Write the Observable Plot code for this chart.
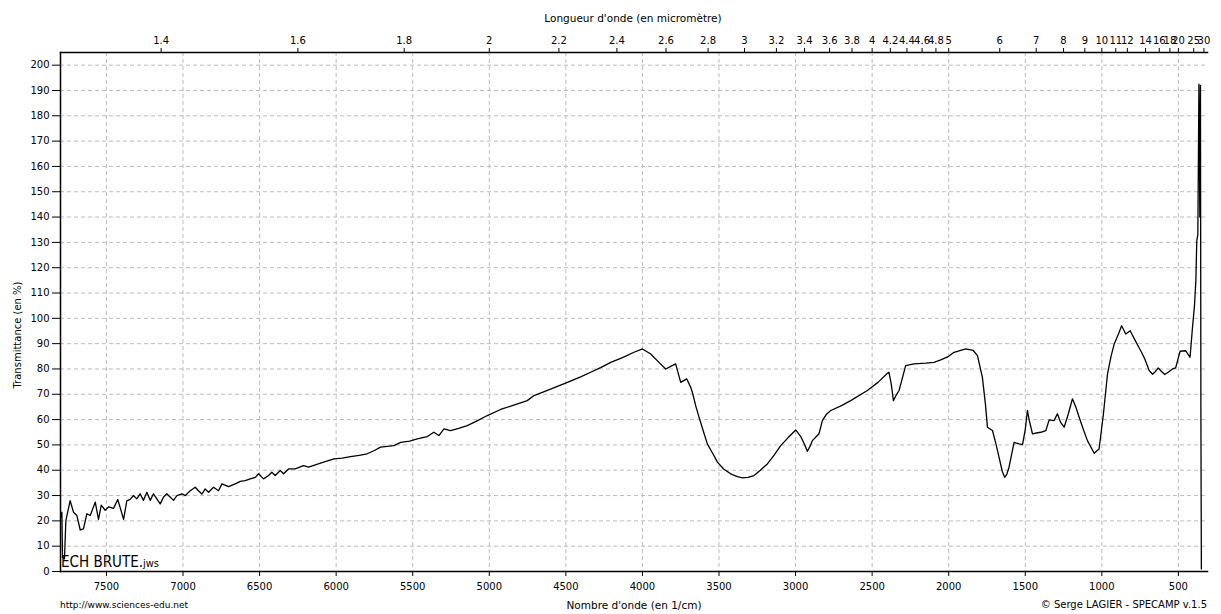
<!DOCTYPE html>
<html><head><meta charset="utf-8">
<script src="https://cdn.jsdelivr.net/npm/d3@7"></script>
<script src="https://cdn.jsdelivr.net/npm/@observablehq/plot@0.6"></script>
<style>
body{margin:0;background:#fff;}
#wrap{position:relative;width:1221px;height:614px;font-family:"DejaVu Sans",sans-serif;color:#000;}
.t{position:absolute;white-space:nowrap;line-height:1;}
</style></head><body><div id="wrap"></div>
<script>
const wavenumber = [7800,7791,7787,7774,7765,7737,7715,7693,7671,7650,7628,7606,7573,7552,7534,7508,7486,7454,7426,7410,7388,7367,7345,7323,7302,7280,7258,7236,7214,7193,7171,7149,7127,7106,7084,7062,7040,7008,6985,6953,6920,6899,6877,6855,6833,6801,6768,6746,6703,6659,6626,6594,6561,6528,6507,6474,6441,6420,6398,6365,6343,6311,6267,6213,6180,6102,6015,5960,5906,5850,5797,5750,5710,5623,5579,5520,5470,5405,5362,5329,5296,5253,5200,5144,5080,5013,4926,4850,4752,4708,4600,4490,4400,4338,4273,4207,4130,4055,4000,3946,3892,3848,3815,3783,3750,3711,3685,3674,3650,3630,3600,3576,3540,3510,3470,3424,3380,3347,3310,3271,3230,3184,3140,3097,3050,2999,2966,2940,2923,2905,2890,2847,2825,2800,2770,2700,2640,2531,2460,2400,2390,2375,2361,2340,2324,2300,2281,2226,2150,2096,2052,2000,1965,1889,1840,1812,1780,1760,1747,1714,1690,1671,1650,1634,1620,1606,1573,1540,1518,1500,1486,1475,1453,1420,1398,1366,1344,1312,1290,1270,1246,1220,1192,1170,1148,1120,1094,1050,1018,990,963,940,919,890,871,844,815,780,746,720,691,669,650,632,610,589,560,539,518,489,452,424,408,395,386,380,373,366,360,356,353,350];
const transmittance = [21.4,23.4,5.6,5.0,20.1,28.0,23.4,22.1,16.4,16.8,22.8,22.1,27.4,20.6,26.2,24.2,25.5,24.9,28.4,25.2,20.6,27.9,28.5,30.0,28.7,30.7,28.1,31.3,28.1,30.7,28.7,26.7,29.4,30.7,29.4,28.1,30.0,30.7,30.0,31.9,33.3,31.9,30.6,32.6,31.3,33.3,31.9,34.6,33.5,34.6,35.6,35.9,36.6,37.2,38.6,36.6,37.9,39.2,37.9,39.9,38.6,40.5,40.5,41.8,41.2,42.8,44.5,44.8,45.4,45.9,46.5,47.8,49.1,49.7,51.0,51.5,52.4,53.3,55.0,53.7,56.3,55.6,56.5,57.6,59.5,61.6,64.0,65.5,67.5,69.5,72.0,74.7,77.0,78.7,80.5,82.6,84.5,86.6,87.9,85.9,82.6,80.0,81.0,82.0,74.7,76.1,72.8,70.8,65.0,60.9,55.0,50.4,46.5,43.2,40.5,38.6,37.5,37.0,37.2,37.9,40.0,42.5,46.0,49.7,52.8,55.9,53.3,50.0,47.5,49.5,51.7,54.4,59.6,62.0,63.6,65.5,67.5,71.5,74.8,78.3,78.7,74.0,67.5,70.0,71.5,77.0,81.3,82.0,82.3,82.6,83.6,85.0,86.6,87.9,87.3,85.3,76.7,66.0,57.0,55.7,50.0,45.1,39.5,37.2,38.5,41.2,51.0,50.4,50.1,56.0,63.6,60.0,54.4,54.8,55.0,55.6,59.9,59.6,62.3,59.0,57.0,62.0,68.2,65.0,60.9,56.0,51.7,46.7,48.4,62.0,78.0,85.0,89.9,94.0,97.1,93.8,95.1,91.0,87.2,84.0,79.4,77.9,79.0,80.4,79.0,77.8,79.0,80.0,80.4,87.0,87.2,84.6,96.4,105.0,114.9,130.7,133.0,192.5,140.0,192.0,60.0,1.0];
const bottomTicks = [7500,7000,6500,6000,5500,5000,4500,4000,3500,3000,2500,2000,1500,1000,500];
const yTicks = [0,10,20,30,40,50,60,70,80,90,100,110,120,130,140,150,160,170,180,190,200];
const lambdaTicks = [1.4,1.6,1.8,2,2.2,2.4,2.6,2.8,3,3.2,3.4,3.6,3.8,4,4.2,4.4,4.6,4.8,5,6,7,8,9,10,11,12,14,16,18,20,25,30];
const texts = {
  top: "Longueur d'onde (en micromètre)",
  bottom: "Nombre d'onde (en 1/cm)",
  yLabel: "Transmittance (en %)",
  site: "http://www.sciences-edu.net",
  credit: "© Serge LAGIER - SPECAMP v.1.5",
  fileMain: "ECH BRUTE.",
  fileExt: "jws"
};

const data = wavenumber.map((w, i) => ({w, t: transmittance[i]}));
const gridStyle = {stroke: "#bdbdbd", strokeOpacity: 1, strokeWidth: 1, strokeDasharray: "4,3"};

const chart = Plot.plot({
  width: 1221, height: 614,
  marginTop: 52, marginBottom: 43, marginLeft: 60, marginRight: 14,
  style: {fontFamily: "DejaVu Sans, sans-serif", fontSize: "10px", color: "#000", background: "#fff"},
  x: {domain: [7800, 310], label: null},
  y: {domain: [0, 205], label: null},
  marks: [
    Plot.gridX(bottomTicks, gridStyle),
    Plot.gridY(yTicks.filter(d => d > 0), gridStyle),
    Plot.line(data, {x: "w", y: "t", stroke: "#000", strokeWidth: 1.3, clip: true}),
    Plot.axisX(bottomTicks, {anchor: "bottom", tickSize: 5, tickPadding: 6, label: null, tickFormat: d => String(d)}),
    Plot.axisX(lambdaTicks.map(l => 10000 / l), {anchor: "top", tickSize: 5, tickPadding: 4, label: null,
      tickFormat: d => String(+(10000 / d).toFixed(2))}),
    Plot.axisY(yTicks, {anchor: "left", tickSize: 8, tickPadding: 3, label: null, tickFormat: d => String(d)}),
    Plot.frame({anchor: "left", strokeWidth: 1.5}),
    Plot.frame({anchor: "top", strokeWidth: 1.5}),
    Plot.frame({anchor: "bottom", strokeWidth: 1.5})
  ]
});
const wrap = document.getElementById("wrap");
wrap.appendChild(chart);

function addText(str, css) {
  const d = document.createElement("div");
  d.className = "t";
  d.textContent = str;
  Object.assign(d.style, css);
  wrap.appendChild(d);
  return d;
}
addText(texts.top, {left: "633px", top: "13px", fontSize: "10.5px", transform: "translateX(-50%)"});
addText(texts.bottom, {left: "634px", top: "600px", fontSize: "10.5px", transform: "translateX(-50%)"});
addText(texts.site, {left: "60px", top: "601px", fontSize: "9px"});
addText(texts.credit, {right: "14px", top: "600px", fontSize: "10px"});
addText(texts.yLabel, {left: "18px", top: "335px", fontSize: "10px", transform: "translate(-50%,-50%) rotate(-90deg)"});
const f = addText("", {left: "61px", top: "555px", fontSize: "15px", fontFamily: "'Liberation Sans Narrow','DejaVu Sans Condensed',sans-serif"});
const s1 = document.createElement("span"); s1.textContent = texts.fileMain; f.appendChild(s1);
const s2 = document.createElement("span"); s2.textContent = texts.fileExt; s2.style.fontSize = "11px"; f.appendChild(s2);
</script>
</body></html>
